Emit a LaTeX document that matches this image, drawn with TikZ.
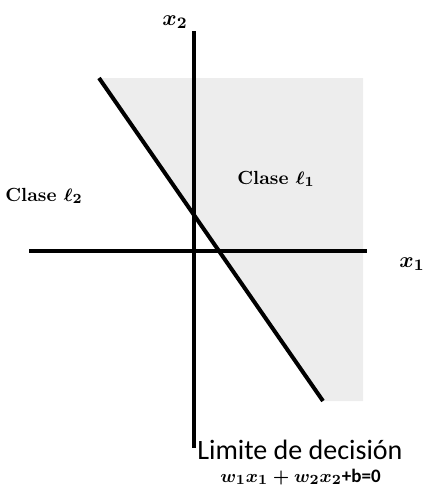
\documentclass[tikz,border=0pt]{standalone}
\usepackage{amsmath,amssymb}
\usepackage{fontspec}
\newfontfamily\calfont{Carlito}
\usepackage{tikz}
\usetikzlibrary{positioning}

\begin{document}
\begin{tikzpicture}[x=0.5pt, y=-0.5pt, every node/.style={inner sep=0pt}, axis/.style={line width=2pt}, bound/.style={line width=2pt}, region/.style={fill=black!7}, lbl/.style={font=\fontsize{9.5}{11}\selectfont\bfseries}, axlbl/.style={font=\fontsize{11}{13}\selectfont}]
\useasboundingbox (0,0) rectangle (424,487);
\coordinate (ytop) at (194,31);
\coordinate (ybot) at (194,448);
\coordinate (xleft) at (29,251);
\coordinate (xright) at (367,251);
\coordinate (lstart) at (99,78);
\coordinate (lend) at (323,401);
\coordinate (rtop) at (363,78);
\coordinate (rbot) at (363,401);
\fill[region] (lstart) -- (rtop) -- (rbot) -- (lend) -- cycle;
\draw[axis] (ytop) -- (ybot);
\draw[axis] (xleft) -- (xright);
\draw[bound] (lstart) -- (lend);
\node[axlbl] (xtwo) at (175,22) {$\boldsymbol{x_2}$};
\node[axlbl] (xone) at (412,264) {$\boldsymbol{x_1}$};
\node[lbl] (claseone) at (276,179) {Clase $\boldsymbol{\ell_1}$};
\node[lbl] (clasetwo) at (44,196) {Clase $\boldsymbol{\ell_2}$};
\node[anchor=base west, font=\calfont\fontsize{14}{16}\selectfont] (limite) at (197,459) {Limite de decisión};
\node[anchor=base west, font=\fontsize{9.5}{11}\selectfont] (eq) at (220,482) {$\boldsymbol{w_1x_1+w_2x_2}$\textbf{\calfont +b=0}};
\end{tikzpicture}
\end{document}
